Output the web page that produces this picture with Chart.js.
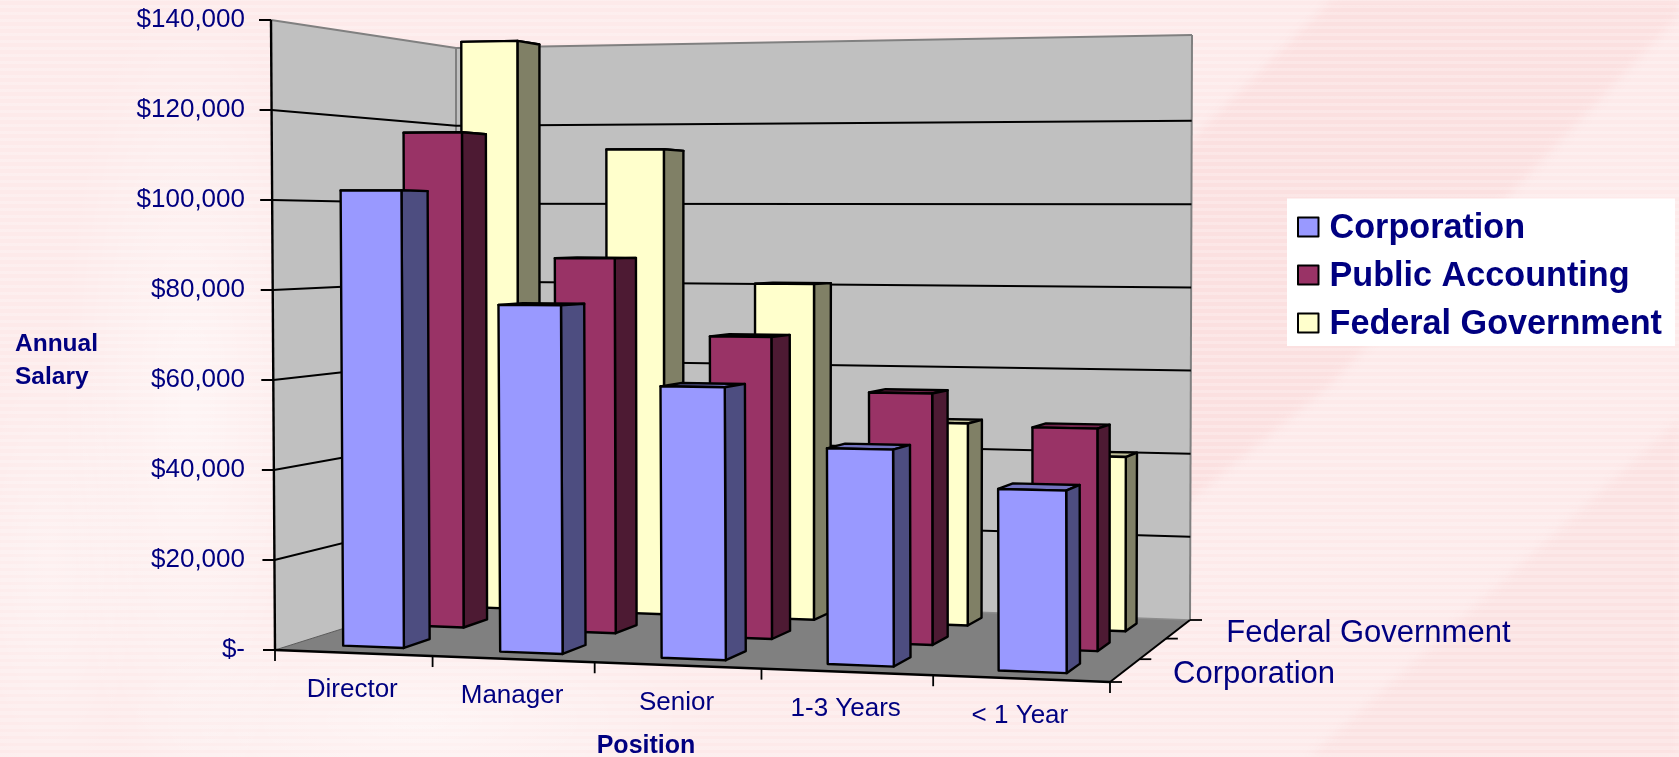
<!DOCTYPE html>
<html>
<head>
<meta charset="utf-8">
<style>
html,body{margin:0;padding:0;width:1679px;height:757px;overflow:hidden;background-color:#fdeaea;}
.bg{position:absolute;left:0;top:0;width:1679px;height:757px;}
#bgSoft{background-image:
 radial-gradient(ellipse 130px 420px at 190px 400px,rgba(255,255,255,.5),rgba(255,255,255,0) 100%),
 radial-gradient(ellipse 300px 110px at 420px 720px,rgba(255,255,255,.45),rgba(255,255,255,0) 100%),
 radial-gradient(ellipse 90px 240px at 50px 560px,rgba(255,255,255,.3),rgba(255,255,255,0) 100%);}
#bandWrapA,#bandWrapB{filter:blur(4px);}
#bandA{background:#fbe0e0;clip-path:polygon(1332px 0,1679px 0,1679px 15px,1330px 385px,1190px 500px,1100px 480px,1100px 230px);}
#bandB{background:#fbe2e2;clip-path:polygon(1679px 420px,1679px 757px,1310px 757px);}
#stripes{background-image:repeating-linear-gradient(0deg,rgba(255,255,255,.22) 0 3.5px,rgba(255,255,255,0) 3.5px 7px);}
canvas{position:absolute;left:0;top:0;}
</style>
</head>
<body>
<div class="bg" id="bgSoft"></div>
<div class="bg" id="bandWrapA"><div class="bg" id="bandA"></div></div>
<div class="bg" id="bandWrapB"><div class="bg" id="bandB"></div></div>
<div class="bg" id="stripes"></div>
<canvas id="c" width="1679" height="757"></canvas>
<script src="https://cdn.jsdelivr.net/npm/chart.js@4/dist/chart.umd.min.js"></script>
<script>
const categories = ['Director','Manager','Senior','1-3 Years','< 1 Year'];
const corporation = [102200,76800,59300,46500,38600];
const publicAccounting = [116250,86800,69000,56700,49500];
const federalGovernment = [139800,113000,80500,47800,40700];
const seriesNames = ['Corporation','Public Accounting','Federal Government'];
const depthLabels = ['Corporation',null,'Federal Government'];
const tickStep = 20000, valueMax = 140000;
const navy = '#000080';

const floorQuad = [[275,650],[1110,682],[1190,617],[456,593]];
const ceilQuad  = [[271,20],[1108,7],[1192,35],[456,48]];
function homography(q){
  const [x0,y0]=q[0],[x1,y1]=q[1],[x2,y2]=q[2],[x3,y3]=q[3];
  const dx1=x1-x2,dx2=x3-x2,sx=x0-x1+x2-x3,dy1=y1-y2,dy2=y3-y2,sy=y0-y1+y2-y3;
  const D=dx1*dy2-dx2*dy1,g=(sx*dy2-dx2*sy)/D,h=(dx1*sy-sx*dy1)/D;
  const a=x1-x0+g*x1,b=x3-x0+h*x3,d=y1-y0+g*y1,e=y3-y0+h*y3;
  return (u,v)=>{const w=g*u+h*v+1;return [(a*u+b*v+x0)/w,(d*u+e*v+y0)/w];};
}
const floorH=homography(floorQuad), ceilH=homography(ceilQuad);
function project(u,d,t){
  const f=floorH(u,d),c=ceilH(u,d);
  const tilt=(1-u)*(1-d)*(ceilQuad[0][0]-floorQuad[0][0])+u*(1-d)*(ceilQuad[1][0]-floorQuad[1][0])
            +u*d*(ceilQuad[2][0]-floorQuad[2][0])+(1-u)*d*(ceilQuad[3][0]-floorQuad[3][0]);
  const sag=3*u*d*Math.min(1,(1-t)*6);
  return [f[0]+tilt*t,f[1]+(c[1]-f[1])*t+sag];
}
function poly(ctx,pts,fill,stroke,lw){
  ctx.beginPath();pts.forEach((p,i)=>i?ctx.lineTo(p[0],p[1]):ctx.moveTo(p[0],p[1]));ctx.closePath();
  if(fill){ctx.fillStyle=fill;ctx.fill();}
  if(stroke){ctx.strokeStyle=stroke;ctx.lineWidth=lw||2;ctx.stroke();}
}
function seg(ctx,a,b,color,lw){ctx.beginPath();ctx.moveTo(a[0],a[1]);ctx.lineTo(b[0],b[1]);ctx.strokeStyle=color;ctx.lineWidth=lw;ctx.stroke();}

const depthHalf = 0.07, barShift = 1.5;
const box3d = {
  id:'box3d',
  afterLayout(chart){
    const s=chart.scales.y;
    s.top=floorQuad[0][1]-630;s.bottom=floorQuad[0][1];s.configure();
    chart.chartArea.top=s.top;chart.chartArea.bottom=s.bottom;
  },
  beforeDatasetsDraw(chart){
    const ctx=chart.ctx,area=chart.chartArea,ys=chart.scales.y;
    const W=area.right-area.left,H=area.bottom-area.top;
    const tOf=px=>(area.bottom-px)/H, uOf=px=>(px-area.left)/W;
    ctx.save();ctx.lineJoin='round';
    // walls and floor
    poly(ctx,[project(0,0,0),project(0,0,1),project(0,1,1),project(0,1,0)],'#c0c0c0');
    poly(ctx,[project(0,1,0),project(0,1,1),project(1,1,1),project(1,1,0)],'#c0c0c0');
    poly(ctx,[project(0,0,0),project(1,0,0),project(1,1,0),project(0,1,0)],'#808080');
    seg(ctx,project(0,0,1),project(0,1,1),'#808080',2);
    seg(ctx,project(0,1,1),project(1,1,1),'#808080',2);
    seg(ctx,project(0,1,1),project(0,1,0),'#808080',2);
    seg(ctx,project(1,1,1),project(1,1,0),'#808080',2);
    seg(ctx,project(0,1,0),project(1,1,0),'#8c8c8c',1.5);
    seg(ctx,project(0,0,0),project(0,1,0),'#5a5a5a',1);
    // gridlines and tick marks from the value axis ticks
    ys.ticks.forEach(tk=>{
      const t=tOf(ys.getPixelForValue(tk.value));
      const a=project(0,0,t);
      seg(ctx,a,[a[0]-12,a[1]],'#000',2);
      if(tk.value===0||tk.value===valueMax) return;
      seg(ctx,a,project(0,1,t),'#000',2);
      seg(ctx,project(0,1,t),project(1,1,t),'#000',2);
    });
    seg(ctx,project(0,0,0),project(0,0,1),'#000',2.4);
    seg(ctx,project(0,0,0),project(1,0,0),'#000',2.4);
    seg(ctx,project(1,0,0),project(1,1,0),'#000',2);
    // category ticks under the front edge
    categories.forEach((c,i)=>{
      const a=project(i/categories.length,0,0);seg(ctx,a,[a[0],a[1]+11],'#000',1.8);
    });
    const e=project(1,0,0);seg(ctx,e,[e[0],e[1]+11],'#000',1.8);
    // series ticks on the right floor edge
    const n=chart.data.datasets.length;
    for(let i=0;i<=n;i++){const a=project(1,i/n,0);seg(ctx,a,[a[0]+12,a[1]],'#000',1.8);}
    // bars back to front
    for(let di=n-1;di>=0;di--){
      const ds=chart.data.datasets[di],meta=chart.getDatasetMeta(di);
      const d0=(di+.5)/n-depthHalf,d1=(di+.5)/n+depthHalf;
      meta.data.forEach(el=>{
        const u0=uOf(el.x-el.width/2+barShift),u1=uOf(el.x+el.width/2+barShift),t=tOf(el.y);
        const A=project(u0,d0,0),B=project(u1,d0,0),C=project(u1,d1,0);
        const A2=project(u0,d0,t),B2=project(u1,d0,t),C2=project(u1,d1,t),D2=project(u0,d1,t);
        poly(ctx,[A2,B2,C2,D2],ds.topColor,'#000',2.4);
        poly(ctx,[B,C,C2,B2],ds.sideColor,'#000',2.4);
        poly(ctx,[A,B,B2,A2],ds.backgroundColor,'#000',2.4);
      });
    }
    // text
    ctx.fillStyle=navy;ctx.textBaseline='middle';
    ctx.font='26px "Liberation Sans"';ctx.textAlign='center';
    categories.forEach((c,i)=>{
      const p=project((i+.5)/categories.length,0,0);
      ctx.fillText(c,p[0]-1,p[1]+37);
    });
    ctx.font='31px "Liberation Sans"';ctx.textAlign='left';
    depthLabels.forEach((c,i)=>{
      if(!c) return;
      const p=project(1,(i+.5)/n,0);
      ctx.fillText(c,p[0]+48,p[1]+4);
    });
    ctx.font='bold 24.5px "Liberation Sans"';
    ctx.fillText('Annual',15,344);ctx.fillText('Salary',15,377);
    ctx.textAlign='center';ctx.font='bold 25px "Liberation Sans"';ctx.fillText('Position',646,746);
    // legend
    ctx.fillStyle='#fff';ctx.fillRect(1287,198.5,388,147.5);
    ctx.font='bold 34.2px "Liberation Sans"';ctx.textAlign='left';
    chart.data.datasets.forEach((ds,i)=>{
      const cy=227+i*48;
      ctx.fillStyle=ds.backgroundColor;ctx.fillRect(1298,cy-9.5,20.5,19);
      ctx.strokeStyle='#000';ctx.lineWidth=2;ctx.strokeRect(1298,cy-9.5,20.5,19);
      ctx.fillStyle=navy;ctx.fillText(ds.label,1329.5,cy+1.5);
    });
    ctx.restore();
    return false;
  }
};

new Chart(document.getElementById('c'),{
  type:'bar',
  data:{labels:categories,datasets:[
    {label:seriesNames[0],data:corporation,backgroundColor:'#9999ff',sideColor:'#4d4d80',topColor:'#7373bf',borderColor:'#000',borderWidth:2},
    {label:seriesNames[1],data:publicAccounting,backgroundColor:'#993366',sideColor:'#4d1a33',topColor:'#73264d',borderColor:'#000',borderWidth:2},
    {label:seriesNames[2],data:federalGovernment,backgroundColor:'#ffffcc',sideColor:'#808066',topColor:'#bfbf99',borderColor:'#000',borderWidth:2}
  ]},
  plugins:[box3d],
  options:{
    responsive:false,animation:false,
    layout:{autoPadding:false,padding:{top:20,bottom:107,left:0,right:569}},
    datasets:{bar:{grouped:false,barPercentage:.39,categoryPercentage:1}},
    scales:{
      x:{display:false},
      y:{min:0,max:valueMax,
        afterFit(s){s.width=273;},
        border:{display:false},
        grid:{display:false},
        ticks:{stepSize:tickStep,padding:20,color:navy,font:{family:'"Liberation Sans"',size:26},
          callback:v=>v===0?'$-':'$'+v.toLocaleString('en-US')}
      }
    },
    plugins:{tooltip:{enabled:false},legend:{display:false}}
  }
});
</script>
</body>
</html>
